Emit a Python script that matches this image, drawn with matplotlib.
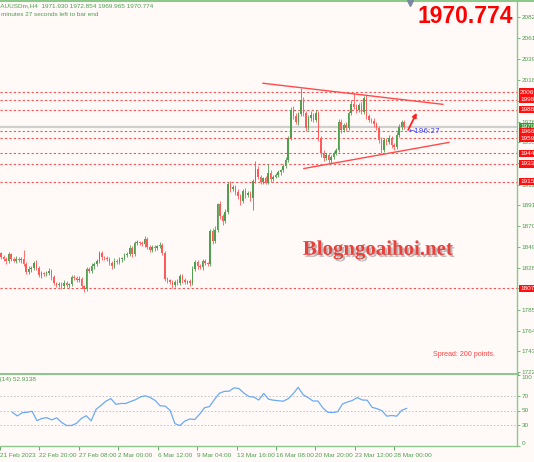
import matplotlib
matplotlib.use('Agg')
import matplotlib.pyplot as plt
import matplotlib.patheffects as pe
from matplotlib.lines import Line2D
import numpy as np

# XAUUSDm H4 closes (open = previous close)
first_open = 1843.0
closes = [
    1838.9, 1836.9, 1834.9, 1842.0, 1836.9, 1834.9, 1836.9, 1835.9, 1836.9, 1831.8,
    1823.7, 1826.7, 1827.8, 1832.8, 1827.8, 1820.6, 1822.7, 1821.7, 1822.7, 1824.7,
    1818.6, 1812.5, 1810.5, 1811.5, 1809.5, 1812.5, 1810.5, 1811.5, 1818.6, 1817.6,
    1815.6, 1816.6, 1809.5, 1806.4, 1826.7, 1824.7, 1829.8, 1831.8, 1834.9, 1843.0,
    1838.9, 1837.9, 1836.9, 1832.8, 1829.8, 1834.9, 1833.9, 1836.9, 1837.9, 1841.0,
    1842.0, 1848.1, 1842.0, 1853.2, 1854.2, 1853.2, 1852.2, 1857.2, 1849.1, 1846.1,
    1849.1, 1848.1, 1850.1, 1851.2, 1843.0, 1816.6, 1815.6, 1813.5, 1810.5, 1813.5,
    1812.5, 1819.6, 1815.6, 1813.5, 1814.5, 1812.5, 1826.7, 1833.9, 1829.8, 1828.8,
    1834.9, 1832.8, 1831.8, 1865.4, 1855.2, 1866.4, 1892.8, 1880.6, 1875.6, 1884.7,
    1913.2, 1908.1, 1910.1, 1905.1, 1901.0, 1895.9, 1906.1, 1902.0, 1904.0, 1898.9,
    1916.2, 1928.4, 1920.3, 1915.2, 1918.3, 1914.2, 1923.4, 1917.3, 1920.3, 1922.3,
    1924.4, 1926.4, 1930.5, 1936.6, 1959.0, 1987.4, 1981.3, 1975.2, 1983.4, 1997.6,
    1984.4, 1969.1, 1979.3, 1982.3, 1977.3, 1984.4, 1959.0, 1943.7, 1938.6, 1941.7,
    1936.6, 1939.6, 1943.7, 1946.8, 1975.2, 1967.1, 1972.2, 1969.1, 1984.4, 1993.5,
    1990.5, 1987.4, 1992.5, 1985.4, 1999.6, 1981.3, 1977.3, 1976.2, 1973.2, 1969.1,
    1956.9, 1946.8, 1956.9, 1954.9, 1959.0, 1951.8, 1949.8, 1962.0, 1970.1, 1975.2,
    1970.8,
]
wick_up = [
    1, 2, 2, 2, 1, 2, 3, 2, 2, 9,
    2, 3, 2, 2, 3, 2, 2, 1, 2, 3,
    2, 2, 1, 2, 2, 3, 2, 1, 2, 2,
    2, 3, 2, 1, 2, 2, 3, 2, 2, 2,
    2, 1, 2, 2, 2, 3, 2, 2, 1, 2,
    2, 3, 2, 2, 2, 1, 2, 3, 2, 2,
    2, 2, 1, 3, 2, 2, 2, 1, 2, 2,
    3, 2, 2, 2, 1, 2, 3, 2, 2, 2,
    2, 2, 1, 2, 3, 4, 1, 3, 2, 3,
    2, 3, 2, 2, 3, 2, 2, 3, 2, 2,
    2, 8, 3, 2, 2, 3, 10, 3, 2, 2,
    3, 2, 2, 3, 2, 3, 4, 3, 2, 12,
    3, 2, 3, 4, 2, 3, 2, 2, 3, 2,
    2, 3, 2, 2, 3, 3, 2, 3, 2, 4,
    12, 3, 2, 3, 2, 3, 2, 2, 3, 2,
    2, 3, 2, 2, 3, 2, 2, 3, 3, 2,
    2,
]
wick_dn = [
    2, 2, 3, 2, 2, 1, 2, 2, 3, 2,
    2, 2, 3, 2, 2, 2, 3, 2, 2, 2,
    3, 2, 2, 2, 3, 2, 2, 3, 2, 2,
    2, 2, 2, 3, 2, 2, 2, 3, 2, 2,
    3, 2, 2, 2, 3, 2, 2, 2, 3, 2,
    2, 2, 3, 2, 2, 2, 2, 3, 2, 2,
    2, 3, 2, 2, 2, 2, 3, 2, 3, 2,
    2, 2, 3, 2, 2, 3, 2, 2, 3, 2,
    3, 2, 2, 2, 3, 2, 2, 3, 4, 2,
    2, 3, 2, 4, 3, 4, 2, 3, 2, 3,
    13, 2, 3, 2, 3, 2, 2, 3, 2, 2,
    2, 3, 2, 2, 2, 2, 3, 2, 3, 2,
    3, 3, 2, 3, 2, 2, 3, 4, 3, 2,
    3, 3, 2, 2, 2, 3, 2, 3, 2, 2,
    2, 3, 2, 2, 2, 3, 2, 2, 3, 2,
    3, 3, 2, 3, 2, 3, 3, 2, 2, 3,
    2,
]

# RSI(14), read every second bar
rsi_vals = [
    47.5, 42.4, 46.8, 47.5, 48.9, 35.7, 38.8, 39.9, 36.8, 39.7,
    33.2, 28.9, 28.9, 31.8, 38.8, 42.6, 35.5, 51.7, 57.2, 63.2,
    66.8, 58.8, 59.9, 59.9, 62.7, 65.2, 69.2, 70.7, 68.2, 64.1,
    56.6, 56.2, 50.3, 31.5, 28.8, 35.1, 38.1, 37.2, 44.8, 53.9,
    55.5, 65.4, 74.3, 76.9, 77.2, 82.0, 80.9, 74.4, 69.7, 68.9,
    64.8, 74.0, 65.9, 64.5, 63.8, 63.1, 66.8, 73.7, 82.7, 72.3,
    68.2, 63.4, 63.4, 53.7, 47.5, 47.1, 48.2, 59.2, 62.0, 64.1,
    68.2, 64.8, 64.5, 54.4, 52.6, 49.6, 42.0, 43.0, 42.0, 50.3,
    52.9,
]

levels = [2006, 1998, 1988, 1966, 1959, 1944, 1933, 1915, 1807]
price_ticks = [2082, 2061, 2039, 2018, 1997, 1976, 1955, 1934, 1912,
               1891, 1870, 1849, 1828, 1807, 1785, 1764, 1743, 1722]
rsi_ticks = [100, 70, 50, 30, 0]
time_ticks = [-5, 11, 27, 43, 59, 75, 91, 107, 123, 139, 155]
time_labels = ['21 Feb 2023', '22 Feb 20:00', '27 Feb 08:00', '2 Mar 00:00',
               '6 Mar 12:00', '9 Mar 04:00', '13 Mar 16:00', '16 Mar 08:00',
               '20 Mar 20:00', '23 Mar 12:00', '28 Mar 00:00']
last_price = 1970.774
upper_tl = ([104.0, 175.4], [2014.9, 1993.5])
lower_tl = ([120.2, 177.8], [1928.4, 1954.9])

BG = '#fffaf8'
GRN = '#8cc88c'
TXT = '#4e9e4e'
UPC = '#4f9f4f'
DNC = '#ff5a5a'
FONT = 'Liberation Sans'

fig = plt.figure(figsize=(5.34, 4.62), dpi=100, facecolor=BG)
W, H = 534.0, 462.0
ax = fig.add_axes([0, (H - 374) / H, 517 / W, 372 / H], facecolor=BG)
ax2 = fig.add_axes([0, (H - 446) / H, 517 / W, 71 / H], facecolor=BG)

xlim = (-0.4, 204.8)
for a in (ax, ax2):
    a.set_xlim(*xlim)
    for s in ('top', 'left'):
        a.spines[s].set_visible(False)
    a.spines['right'].set_color(GRN)
    a.spines['right'].set_linewidth(1.0)
    a.yaxis.tick_right()
    a.tick_params(axis='y', length=2, width=0.5, color=TXT, labelcolor=TXT,
                  labelsize=4.6, pad=1.5)
    for lab in a.get_yticklabels():
        lab.set_family(FONT)

# candles
idx = np.arange(len(closes))
c = np.array(closes)
o = np.array([first_open] + closes[:-1])
up = c >= o
hi = np.maximum(o, c) + np.array(wick_up)
lo = np.minimum(o, c) - np.array(wick_dn)
cols = np.where(up, UPC, DNC)
ax.vlines(idx, lo, hi, colors=cols, lw=0.6, zorder=3)
ax.bar(idx, np.maximum(np.abs(c - o), 0.6), bottom=np.minimum(o, c), width=0.6,
       color=cols, lw=0, zorder=4)

ax.set_ylim(1720.0, 2097.3)
ax.set_xticks([])
ax.spines['bottom'].set_color(GRN)
ax.spines['bottom'].set_linewidth(2.2)
ax.set_yticks(price_ticks)
ax.set_yticklabels([str(t) for t in price_ticks], family=FONT, fontsize=4.6)

# levels
ax.axhline(last_price, color='#cfcfcf', lw=1.6, zorder=2)
for lv in levels:
    ax.axhline(lv, color='#ff5050', lw=0.8, ls=(0, (2, 2)), zorder=2)
tr = ax.get_yaxis_transform()
ax.text(1.006, last_price, '1970', transform=tr, color='white', fontsize=4.6,
        family=FONT, va='center', ha='left', clip_on=False, zorder=9,
        bbox=dict(facecolor='#2e9a2e', edgecolor='none', pad=0.8))
for lv in levels:
    ax.text(1.006, lv, str(lv), transform=tr, color='white', fontsize=4.6,
            family=FONT, va='center', ha='left', clip_on=False, zorder=10,
            bbox=dict(facecolor='#ff1010', edgecolor='none', pad=0.8))

# trend lines and arrow
ax.plot(*upper_tl, color='#ff4a4a', lw=1.0, zorder=5)
ax.plot(*lower_tl, color='#ff4a4a', lw=1.0, zorder=5)
ax.annotate('', xy=(165.5, 1987.4), xytext=(161.1, 1965.1),
            arrowprops=dict(arrowstyle='-|>', color='#ff2020', lw=1.3,
                            mutation_scale=6), zorder=6)
ax.text(161.9, 1966.1, '\u2190196:27', color='#4040ff', fontsize=5.2,
        family='DejaVu Sans', va='center', ha='left', zorder=6)

# watermark
ax.text(149.6, 1846, 'Blogngoaihoi.net', color='#e8413c', fontsize=15,
        family='Liberation Serif', weight='bold', ha='center', va='center',
        zorder=7, path_effects=[pe.SimplePatchShadow(offset=(1.5, -1.5),
                                                     shadow_rgbFace='#909090',
                                                     alpha=0.6), pe.Normal()])

# RSI pane
ax2.plot(np.arange(0, len(closes), 2), rsi_vals, color='#6aaaf5', lw=0.9, zorder=3)
for lv in (70, 50, 30):
    ax2.axhline(lv, color='#c0c0c0', lw=0.7, ls=(0, (1.5, 2)), zorder=1)
ax2.set_ylim(0, 100)
ax2.spines['top'].set_color(GRN)
ax2.spines['top'].set_linewidth(2.2)
ax2.spines['bottom'].set_color(GRN)
ax2.spines['bottom'].set_linewidth(1.0)
ax2.set_yticks(rsi_ticks)
ax2.set_yticklabels([str(t) for t in rsi_ticks], family=FONT, fontsize=4.6)
ax2.get_yticklabels()[0].set_va('top')
ax2.get_yticklabels()[-1].set_va('bottom')
ax2.set_xticks(time_ticks)
ax2.set_xticklabels(time_labels, family=FONT, fontsize=4.6, ha='left', color=TXT)
ax2.tick_params(axis='x', length=3, width=0.6, color=TXT, pad=2)
ax2.text(-11 / 517, 0.93, 'RSI(14) 52.9138', transform=ax2.transAxes, color=TXT,
         fontsize=4.6, family=FONT, va='center', ha='left', clip_on=False)

# header texts
fig.text(-4 / W, 1 - 6 / H, 'XAUUSDm,H4  1971.930 1972.854 1969.965 1970.774',
         color=TXT, fontsize=4.6, family=FONT, va='center', ha='left')
fig.text(1 / W, 1 - 14.5 / H, 'minutes 27 seconds left to bar end',
         color=TXT, fontsize=4.6, family=FONT, va='center', ha='left')
fig.text(465 / W, 1 - 16.5 / H, '1970.774', color='#ff0000', fontsize=16.5,
         family=FONT, weight='bold', ha='center', va='center')
fig.text(433 / W, 1 - 355 / H, 'Spread: 200 points.', color='#ff4040',
         fontsize=5.1, family=FONT, ha='left', va='center')
fig.add_artist(Line2D([0, 1], [1 - 0.7 / H, 1 - 0.7 / H], color=GRN, lw=1.5))
fig.add_artist(Line2D([410 / W], [1 - 3 / H], marker='v', markersize=4,
                      color='#7a8aa0', lw=0))

fig.savefig('out.png', dpi=100, facecolor=BG)
